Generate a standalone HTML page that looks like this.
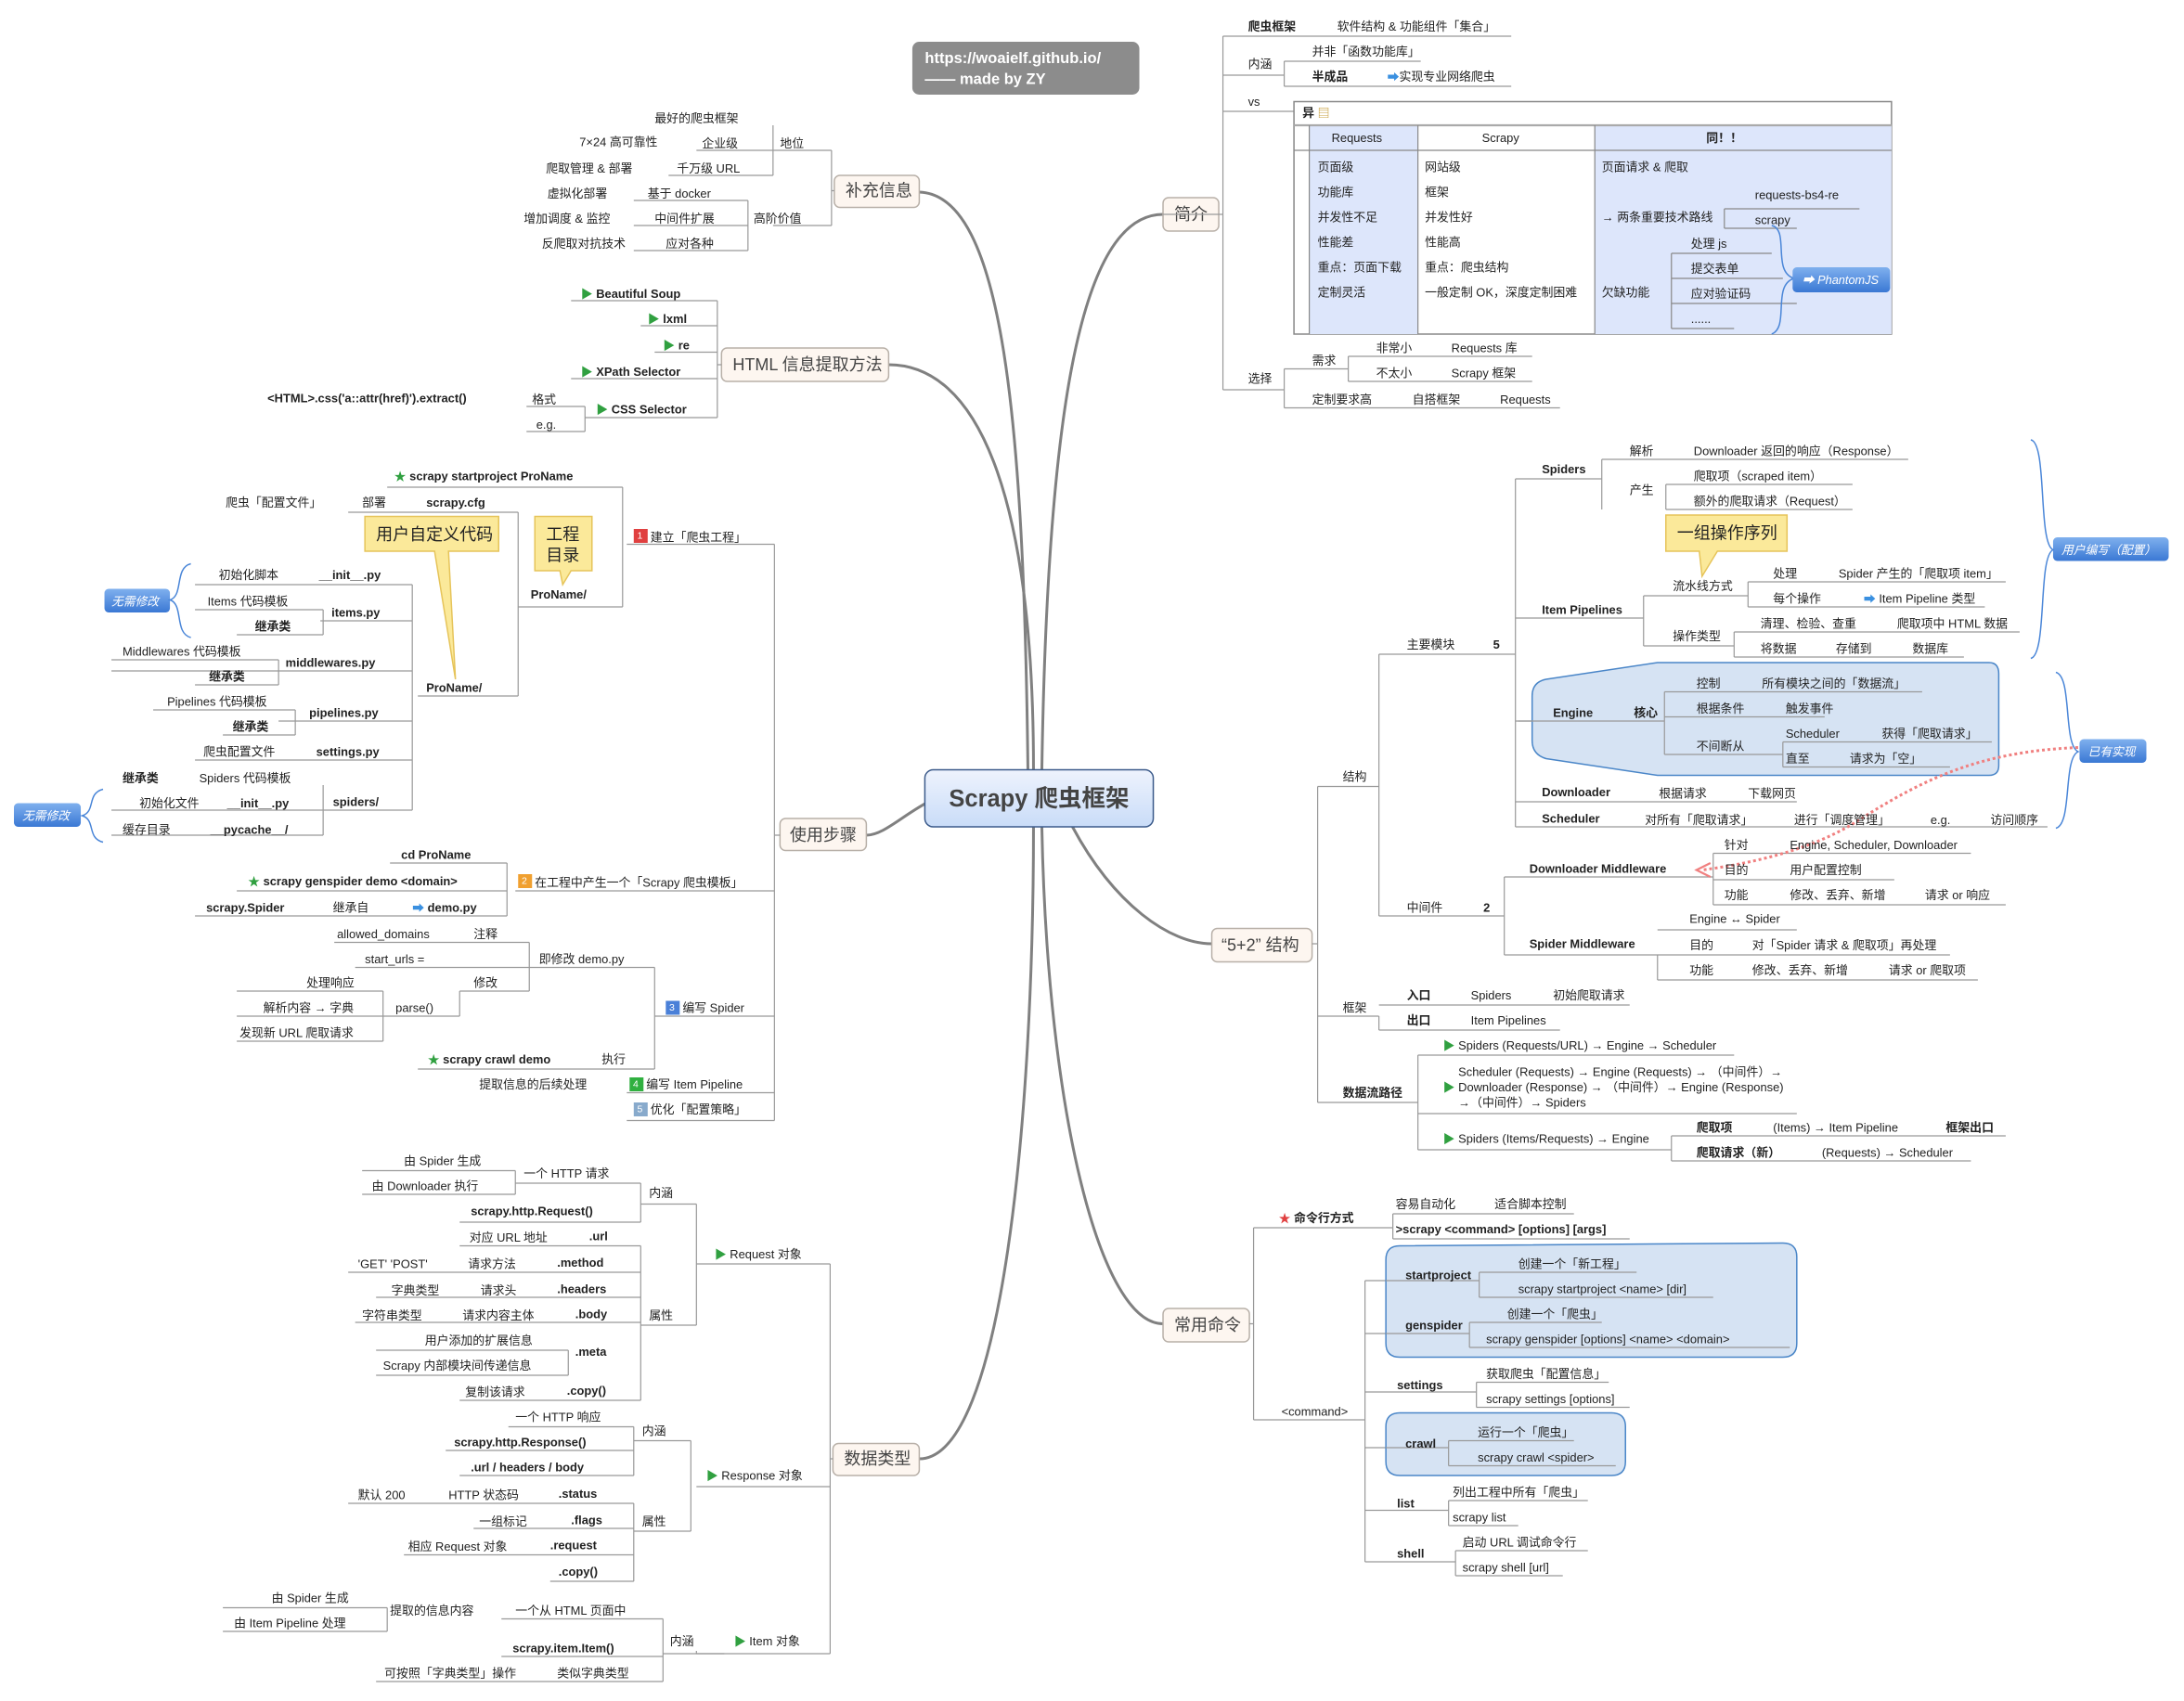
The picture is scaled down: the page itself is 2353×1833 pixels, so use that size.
<!DOCTYPE html>
<html><head><meta charset="utf-8"><style>
html,body{margin:0;padding:0;background:#fff;}
svg{display:block}
text{font-family:"Liberation Sans","Noto Sans CJK SC",sans-serif;font-size:8.6px;fill:#222;dominant-baseline:central}
.b{font-weight:bold}
.nu{}
.br{font-size:12px;fill:#444}
.lab{fill:#fff;font-style:italic;font-size:8.5px}
</style></head><body>
<svg id="s" width="2353" height="1833" viewBox="0 0 1568 1222" preserveAspectRatio="none" xmlns="http://www.w3.org/2000/svg">
<defs>
<linearGradient id="cg" x1="0" y1="0" x2="0" y2="1"><stop offset="0" stop-color="#eef3fd"/><stop offset="1" stop-color="#c9dcf8"/></linearGradient>
<linearGradient id="bg" x1="0" y1="0" x2="0" y2="1"><stop offset="0" stop-color="#7fb0ee"/><stop offset="1" stop-color="#3a78d4"/></linearGradient>
</defs>
<g fill="none" stroke="#808080" stroke-width="2">
<path d="M738 553 C735 300 720 140 660 138"/>
<path d="M742 553 C742 350 700 262 638 262"/>
<path d="M700 565 C660 570 640 600 622 600"/>
<path d="M742 594 C742 800 720 1048 660 1048"/>
<path d="M748 553 C752 300 775 154 835 154"/>
<path d="M770 594 C800 650 840 678 870 678"/>
<path d="M748 594 C752 800 790 951 835 951"/>
</g>
<!-- central -->
<rect x="664" y="553" width="164" height="41" rx="6" fill="url(#cg)" stroke="#3b5a8a"/>
<text x="746" y="574" class="nu b" style="font-size:17px;fill:#444" text-anchor="middle">Scrapy 爬虫框架</text>
<!-- link -->
<rect x="655" y="30" width="163" height="38" rx="5" fill="#8c8c8c"/>
<text x="664" y="42" class="nu b" style="fill:#fff;font-size:11px">https://woaielf.github.io/</text>
<text x="664" y="57" class="nu b" style="fill:#fff;font-size:11px">—— made by ZY</text>
<!-- branch nodes -->
<g fill="#fdf6f0" stroke="#b8b0a8">
<rect x="599" y="126" width="61" height="23" rx="4"/>
<rect x="518" y="250" width="120" height="24" rx="4"/>
<rect x="560" y="588" width="62" height="23" rx="4"/>
<rect x="598" y="1037" width="62" height="23" rx="4"/>
<rect x="835" y="142" width="40" height="24" rx="4"/>
<rect x="870" y="667" width="72" height="24" rx="4"/>
<rect x="835" y="940" width="62" height="24" rx="4"/>
</g>
<text x="607" y="137" class="br nu">补充信息</text>
<text x="526" y="262" class="br nu">HTML 信息提取方法</text>
<text x="567" y="600" class="br nu">使用步骤</text>
<text x="606" y="1048" class="br nu">数据类型</text>
<text x="843" y="154" class="br nu">简介</text>
<text x="877" y="679" class="br nu">“5+2” 结构</text>
<text x="843" y="952" class="br nu">常用命令</text>

<!-- connector vertical lines -->
<g fill="none" stroke="#999" stroke-width="0.8">
<path d="M599 137 H597 M597 108 V162 M555 108 H597 M555 162 H597"/>
<path d="M555 90 V126 M500 108 H555 M480 126 H555 M537 144 V180 M455 144 H537 M455 162 H537 M455 180 H537"/>
<path d="M518 262 H515 M515 216 V300 M515 216 H410 M515 234 H460 M515 253 H470 M515 272 H410 M515 300 H420 M420 292 V310 M378 292 H420 M378 310 H420"/>
<path d="M560 600 H556 M556 391 V805 M556 391 H450 M556 640 H370 M556 730 H470 M556 785 H450 M556 805 H450"/>
<path d="M447 350 V436 M278 350 H447 M250 368 H372 M372 368 V500 M300 500 H372 M372 436 H447"/>
<path d="M296 420 V582 M140 420 H296 M230 446 H296 M80 482 H296 M200 518 H296 M140 546 H296 M232 582 H296 M232 564 V600 M80 582 H232 M80 600 H232 M232 438 V456 M140 438 H232 M170 456 H232 M200 474 V492 M80 474 H200 M140 492 H200 M212 510 V528 M110 510 H212 M160 528 H212"/>
<path d="M364 620 V658 M280 620 H364 M170 640 H364 M140 658 H364"/>
<path d="M470 695 V768 M380 695 H470 M300 768 H470 M380 677 V712 M240 677 H380 M255 695 H380 M330 712 H380 M330 712 V730 M275 712 V748 M170 712 H275 M170 730 H330 M170 748 H275"/>
<path d="M598 1048 H596 M596 908 V1188 M500 908 H596 M500 1068 H596 M500 1188 H596"/>
<path d="M500 865 V952 M460 865 H500 M460 952 H500 M460 850 V878 M330 878 H460 M370 850 H460 M370 841 V858 M260 841 H370 M260 858 H370 M460 895 V1006 M330 895 H460 M250 914 H460 M270 932 H460 M255 950 H460 M408 970 V988 M270 970 H408 M270 988 H408 M330 1006 H460"/>
<path d="M496 1035 V1100 M455 1035 H496 M455 1100 H496 M455 1025 V1060 M365 1025 H455 M320 1042 H455 M330 1060 H455 M455 1080 V1136 M250 1080 H455 M340 1098 H455 M290 1117 H455 M395 1136 H455"/>
<path d="M500 1188 V1186 M476 1188 H520 M476 1163 V1208 M360 1163 H476 M360 1190 H476 M270 1208 H476 M278 1155 V1172 M160 1155 H278 M160 1172 H278"/>
<path d="M835 154 H878 M878 26 V280 M878 26 H1085 M878 54 H922 M922 44 V62 M922 44 H1020 M922 62 H1085 M878 80 H929 M878 280 H922 M922 265 V293 M922 265 H968 M968 256 V274 M968 256 H1100 M968 274 H1100 M922 293 H1120"/>
<path d="M942 678 H946 M946 565 V792 M946 565 H990 M946 730 H990 M946 792 H1018 M990 470 V658 M990 470 H1088 M990 658 H1080 M1088 344 V594 M1088 344 H1150 M1088 444 H1180 M1088 518 H1100 M1088 576 H1290 M1088 594 H1470 M1150 330 V366 M1150 330 H1370 M1196 348 V366 M1196 348 H1330 M1196 366 H1330 M1180 428 V464 M1180 428 H1255 M1180 464 H1245 M1255 418 V436 M1255 418 H1440 M1255 436 H1425 M1245 454 V472 M1245 454 H1450 M1245 472 H1410"/>
<path d="M1080 630 V686 M1080 630 H1230 M1080 686 H1190 M1230 613 V650 M1230 613 H1415 M1230 632 H1360 M1230 650 H1440 M1190 668 H1290 M1190 686 V704 M1190 686 H1400 M1190 704 H1420"/>
<path d="M990 730 V740 M990 722 H1170 M990 740 H1120 M1018 758 V826 M1018 758 H1245 M1018 800 H1290 M1018 826 H1200 M1200 816 V834 M1200 816 H1440 M1200 834 H1415"/>
<path d="M897 951 H900 M900 882 V1020 M900 882 H1000 M900 1020 H980 M1000 872 V890 M1000 872 H1130 M1000 890 H1170 M980 920 V1122 M980 920 H995 M980 958 H995 M980 1000 H1060 M980 1040 H995 M980 1085 H1040 M980 1122 H1045 M1060 993 V1011 M1060 993 H1155 M1060 1011 H1170 M1040 1078 V1096 M1040 1078 H1140 M1040 1096 H1090 M1045 1114 V1132 M1045 1114 H1140 M1045 1132 H1122"/>
</g>

<!-- table -->
<rect x="929" y="73" width="429" height="167" fill="#fff" stroke="#888"/>
<rect x="940" y="90" width="78" height="150" fill="#dde6fb"/>
<rect x="1145" y="90" width="213" height="150" fill="#dde6fb"/>
<g stroke="#888" fill="none" stroke-width="0.8">
<line x1="929" y1="90" x2="1358" y2="90" stroke="#aaa" stroke-width="1.5"/>
<line x1="929" y1="108" x2="1358" y2="108"/>
<line x1="940" y1="90" x2="940" y2="240"/>
<line x1="1018" y1="90" x2="1018" y2="240"/>
<line x1="1145" y1="90" x2="1145" y2="240"/>
<path d="M1238 150 V164 M1238 150 H1335 M1238 164 H1290 M1200 182 V236 M1200 182 H1272 M1200 200 H1280 M1200 218 H1290 M1200 236 H1245"/>
</g>
<path d="M1272 162 C1285 165 1272 195 1288 200 C1272 205 1285 235 1272 240" fill="none" stroke="#4a86d8"/>
<rect x="1287" y="192" width="70" height="18" rx="3" fill="url(#bg)"/>
<text x="1294" y="201" class="lab nu">➡ PhantomJS</text>
<text x="935" y="81" class="b nu">异 <tspan fill="#c8a040">▤</tspan></text>
<text x="956" y="99" class="nu">Requests</text><text x="1064" y="99" class="nu">Scrapy</text><text x="1225" y="99" class="b nu">同！！</text>
<g class="nu">
<text x="946" y="120" class="nu">页面级</text><text x="946" y="138" class="nu">功能库</text><text x="946" y="156" class="nu">并发性不足</text><text x="946" y="174" class="nu">性能差</text><text x="946" y="192" class="nu">重点：页面下载</text><text x="946" y="210" class="nu">定制灵活</text>
<text x="1023" y="120" class="nu">网站级</text><text x="1023" y="138" class="nu">框架</text><text x="1023" y="156" class="nu">并发性好</text><text x="1023" y="174" class="nu">性能高</text><text x="1023" y="192" class="nu">重点：爬虫结构</text><text x="1023" y="210" class="nu">一般定制 OK，深度定制困难</text>
<text x="1150" y="120" class="nu">页面请求 &amp; 爬取</text><text x="1150" y="156" class="nu">→ 两条重要技术路线</text><text x="1150" y="210" class="nu">欠缺功能</text>
<text x="1260" y="140" class="nu">requests-bs4-re</text><text x="1260" y="158" class="nu">scrapy</text>
<text x="1214" y="175" class="nu">处理 js</text><text x="1214" y="193" class="nu">提交表单</text><text x="1214" y="211" class="nu">应对验证码</text><text x="1214" y="229" class="nu">......</text>
</g>

<!-- engine shape -->
<path d="M1100 500 Q1100 490 1110 488 L1190 476 L1428 476 Q1435 476 1435 484 L1435 550 Q1435 557 1428 557 L1190 557 L1110 545 Q1100 542 1100 532 Z" fill="#d6e3f3" stroke="#4a86c8"/>
<g fill="none" stroke="#999" stroke-width="0.8"><path d="M1195 497 V542 M1195 497 H1380 M1195 515 H1310 M1195 542 H1280 M1280 533 V551 M1280 533 H1430 M1280 551 H1400 M1090 518 H1195"/></g>
<!-- startproject box -->
<path d="M995 905 Q995 895 1005 895 L1280 893 Q1290 893 1290 903 L1290 965 Q1290 975 1280 975 L1005 975 Q995 975 995 965 Z" fill="#d6e3f3" stroke="#4a86c8"/>
<path d="M995 1025 Q995 1015 1005 1015 L1157 1015 Q1167 1015 1167 1025 L1167 1050 Q1167 1060 1157 1060 L1005 1060 Q995 1060 995 1050 Z" fill="#d6e3f3" stroke="#4a86c8"/>
<g fill="none" stroke="#999" stroke-width="0.8"><path d="M1062 914 V932 M1062 914 H1175 M1062 932 H1230 M995 920 H1062 M1055 950 V968 M1055 950 H1150 M1055 968 H1285 M995 958 H1055 M1040 1035 V1053 M1040 1035 H1130 M1040 1053 H1160 M995 1040 H1040"/></g>

<!-- callouts -->
<path d="M262 371 H358 V396 H322 L327 488 L312 396 H262 Z" fill="#fbe99a" stroke="#e6c45a"/>
<text x="270" y="384" class="nu" style="font-size:12px">用户自定义代码</text>
<path d="M384 371 H425 V410 H410 L404 420 L402 410 H384 Z" fill="#fbe99a" stroke="#e6c45a"/>
<text x="392" y="384" class="nu" style="font-size:12px">工程</text><text x="392" y="399" class="nu" style="font-size:12px">目录</text>
<path d="M1196 370 H1283 V396 H1233 L1222 414 L1220 396 H1196 Z" fill="#fbe99a" stroke="#e6c45a"/>
<text x="1204" y="383" class="nu" style="font-size:12px">一组操作序列</text>

<!-- blue labels + braces -->
<rect x="75" y="423" width="47" height="17" rx="3" fill="url(#bg)"/><text x="80" y="432" class="lab nu">无需修改</text>
<path d="M137 405 C125 408 132 428 122 431 C132 434 125 455 137 458" fill="none" stroke="#4a86d8"/>
<rect x="10" y="577" width="48" height="17" rx="3" fill="url(#bg)"/><text x="16" y="586" class="lab nu">无需修改</text>
<path d="M74 567 C62 570 69 583 59 586 C69 589 62 602 74 605" fill="none" stroke="#4a86d8"/>
<rect x="1474" y="386" width="83" height="17" rx="3" fill="url(#bg)"/><text x="1480" y="395" class="lab nu">用户编写（配置）</text>
<path d="M1458 316 C1470 318 1463 390 1474 395 C1463 400 1470 470 1458 473" fill="none" stroke="#4a86d8"/>
<rect x="1493" y="531" width="48" height="17" rx="3" fill="url(#bg)"/><text x="1499" y="540" class="lab nu">已有实现</text>
<path d="M1476 483 C1488 486 1481 535 1492 540 C1481 545 1488 592 1476 595" fill="none" stroke="#4a86d8"/>
<path d="M1492 537 C1420 540 1380 560 1330 592 C1300 610 1260 620 1222 625" fill="none" stroke="#f08080" stroke-width="2" stroke-dasharray="2,2"/>
<path d="M1228 620 L1218 625 L1228 630" fill="none" stroke="#f08080" stroke-width="1.5"/>

<!-- step badges -->
<rect x="455" y="380" width="10" height="10" fill="#e04040"/><text x="457.5" y="385" class="nu" style="fill:#fff;font-size:7px">1</text>
<rect x="372" y="628" width="10" height="10" fill="#f0a030"/><text x="374.5" y="633" class="nu" style="fill:#fff;font-size:7px">2</text>
<rect x="478" y="719" width="10" height="10" fill="#4a80d8"/><text x="480.5" y="724" class="nu" style="fill:#fff;font-size:7px">3</text>
<rect x="452" y="774" width="10" height="10" fill="#30b040"/><text x="454.5" y="779" class="nu" style="fill:#fff;font-size:7px">4</text>
<rect x="455" y="792" width="10" height="10" fill="#88aacc"/><text x="457.5" y="797" class="nu" style="fill:#fff;font-size:7px">5</text>

<!-- texts: left top -->
<text x="470" y="85">最好的爬虫框架</text><text x="416" y="102">7×24 高可靠性</text><text x="504" y="103">企业级</text><text x="560" y="103">地位</text>
<text x="392" y="121">爬取管理 &amp; 部署</text><text x="486" y="121">千万级 URL</text>
<text x="393" y="139">虚拟化部署</text><text x="465" y="139">基于 docker</text><text x="541" y="157">高阶价值</text>
<text x="376" y="157">增加调度 &amp; 监控</text><text x="470" y="157">中间件扩展</text>
<text x="389" y="175">反爬取对抗技术</text><text x="478" y="175">应对各种</text>
<text x="417" y="211" class="b"><tspan fill="#30a040">▶</tspan> Beautiful Soup</text>
<text x="465" y="229" class="b"><tspan fill="#30a040">▶</tspan> lxml</text>
<text x="476" y="248" class="b"><tspan fill="#30a040">▶</tspan> re</text>
<text x="417" y="267" class="b"><tspan fill="#30a040">▶</tspan> XPath Selector</text>
<text x="428" y="294" class="b"><tspan fill="#30a040">▶</tspan> CSS Selector</text>
<text x="192" y="286" class="b nu">&lt;HTML&gt;.css('a::attr(href)').extract()</text><text x="382" y="287">格式</text><text x="385" y="305">e.g.</text>
<!-- steps -->
<text x="283" y="342" class="b"><tspan fill="#30a040">★</tspan> scrapy startproject ProName</text>
<text x="162" y="361">爬虫「配置文件」</text><text x="260" y="361">部署</text><text x="306" y="361" class="b">scrapy.cfg</text>
<text x="381" y="427" class="b nu">ProName/</text><text x="306" y="494" class="b nu">ProName/</text>
<text x="467" y="386">建立「爬虫工程」</text>
<text x="157" y="413">初始化脚本</text><text x="229" y="413" class="b">__init__.py</text>
<text x="149" y="432">Items 代码模板</text><text x="238" y="440" class="b">items.py</text><text x="183" y="450" class="b">继承类</text>
<text x="88" y="468">Middlewares 代码模板</text><text x="205" y="476" class="b">middlewares.py</text><text x="150" y="486" class="b">继承类</text>
<text x="120" y="504">Pipelines 代码模板</text><text x="222" y="512" class="b">pipelines.py</text><text x="167" y="522" class="b">继承类</text>
<text x="146" y="540">爬虫配置文件</text><text x="227" y="540" class="b">settings.py</text>
<text x="88" y="559" class="b nu">继承类</text><text x="143" y="559">Spiders 代码模板</text><text x="239" y="576" class="b nu">spiders/</text>
<text x="100" y="577">初始化文件</text><text x="163" y="577" class="b">__init__.py</text>
<text x="88" y="596">缓存目录</text><text x="151" y="596" class="b">__pycache__/</text>
<text x="288" y="614" class="b">cd ProName</text>
<text x="178" y="633" class="b"><tspan fill="#30a040">★</tspan> scrapy genspider demo &lt;domain&gt;</text>
<text x="384" y="634">在工程中产生一个「Scrapy 爬虫模板」</text>
<text x="148" y="652" class="b">scrapy.Spider</text><text x="239" y="652">继承自</text><text x="296" y="652" class="b"><tspan fill="#3a90e0">➡</tspan> demo.py</text>
<text x="242" y="671">allowed_domains</text><text x="340" y="671">注释</text><text x="387" y="689">即修改 demo.py</text>
<text x="262" y="689">start_urls =</text><text x="340" y="706">修改</text><text x="220" y="706">处理响应</text>
<text x="189" y="724">解析内容 → 字典</text><text x="284" y="724">parse()</text><text x="490" y="724">编写 Spider</text>
<text x="172" y="742">发现新 URL 爬取请求</text>
<text x="307" y="761" class="b"><tspan fill="#30a040">★</tspan> scrapy crawl demo</text><text x="432" y="761">执行</text>
<text x="344" y="779">提取信息的后续处理</text><text x="464" y="779">编写 Item Pipeline</text>
<text x="467" y="797">优化「配置策略」</text>
<!-- data types -->
<text x="290" y="834">由 Spider 生成</text><text x="376" y="843">一个 HTTP 请求</text><text x="267" y="852">由 Downloader 执行</text><text x="466" y="857">内涵</text>
<text x="338" y="870" class="b">scrapy.http.Request()</text>
<text x="337" y="889">对应 URL 地址</text><text x="423" y="888" class="b">.url</text>
<text x="513" y="901"><tspan fill="#30a040">▶</tspan> Request 对象</text>
<text x="257" y="908">'GET' 'POST'</text><text x="336" y="908">请求方法</text><text x="400" y="907" class="b">.method</text>
<text x="281" y="927">字典类型</text><text x="345" y="927">请求头</text><text x="400" y="926" class="b">.headers</text>
<text x="260" y="945">字符串类型</text><text x="332" y="945">请求内容主体</text><text x="413" y="944" class="b">.body</text><text x="466" y="945">属性</text>
<text x="305" y="963">用户添加的扩展信息</text><text x="413" y="971" class="b">.meta</text><text x="275" y="981">Scrapy 内部模块间传递信息</text>
<text x="334" y="1000">复制该请求</text><text x="407" y="999" class="b">.copy()</text>
<text x="370" y="1018">一个 HTTP 响应</text><text x="461" y="1028">内涵</text>
<text x="326" y="1036" class="b">scrapy.http.Response()</text><text x="338" y="1054" class="b">.url / headers / body</text>
<text x="507" y="1060"><tspan fill="#30a040">▶</tspan> Response 对象</text>
<text x="257" y="1074">默认 200</text><text x="322" y="1074">HTTP 状态码</text><text x="401" y="1073" class="b">.status</text>
<text x="344" y="1093">一组标记</text><text x="410" y="1092" class="b">.flags</text><text x="461" y="1093">属性</text>
<text x="293" y="1111">相应 Request 对象</text><text x="395" y="1110" class="b">.request</text><text x="401" y="1129" class="b">.copy()</text>
<text x="195" y="1148">由 Spider 生成</text><text x="280" y="1157">提取的信息内容</text><text x="370" y="1157">一个从 HTML 页面中</text><text x="168" y="1166">由 Item Pipeline 处理</text>
<text x="481" y="1179">内涵</text><text x="527" y="1179"><tspan fill="#30a040">▶</tspan> Item 对象</text>
<text x="368" y="1184" class="b">scrapy.item.Item()</text>
<text x="276" y="1202">可按照「字典类型」操作</text><text x="400" y="1202">类似字典类型</text>
<!-- intro -->
<text x="896" y="19" class="b">爬虫框架</text><text x="960" y="19">软件结构 &amp; 功能组件「集合」</text>
<text x="896" y="46">内涵</text><text x="942" y="37">并非「函数功能库」</text><text x="942" y="55" class="b">半成品</text><text x="996" y="55"><tspan fill="#3a90e0">➡</tspan>实现专业网络爬虫</text>
<text x="896" y="73" class="nu">vs</text>
<text x="896" y="272">选择</text><text x="942" y="259">需求</text><text x="988" y="250">非常小</text><text x="1042" y="250">Requests 库</text>
<text x="988" y="268">不太小</text><text x="1042" y="268">Scrapy 框架</text>
<text x="942" y="287">定制要求高</text><text x="1014" y="287">自搭框架</text><text x="1077" y="287">Requests</text>
<!-- 5+2 -->
<text x="964" y="558">结构</text><text x="1010" y="463">主要模块</text><text x="1072" y="463" class="b">5</text>
<text x="1107" y="337" class="b">Spiders</text><text x="1170" y="324">解析</text><text x="1216" y="324">Downloader 返回的响应（Response）</text>
<text x="1170" y="352">产生</text><text x="1216" y="342">爬取项（scraped item）</text><text x="1216" y="360">额外的爬取请求（Request）</text>
<text x="1107" y="438" class="b">Item Pipelines</text><text x="1201" y="421">流水线方式</text><text x="1273" y="412">处理</text><text x="1320" y="412">Spider 产生的「爬取项 item」</text>
<text x="1273" y="430">每个操作</text><text x="1338" y="430"><tspan fill="#3a90e0">➡</tspan> Item Pipeline 类型</text>
<text x="1201" y="457">操作类型</text><text x="1264" y="448">清理、检验、查重</text><text x="1362" y="448">爬取项中 HTML 数据</text>
<text x="1264" y="466">将数据</text><text x="1318" y="466">存储到</text><text x="1373" y="466">数据库</text>
<text x="1115" y="512" class="b nu">Engine</text><text x="1173" y="512" class="b nu">核心</text>
<text x="1218" y="491" class="nu">控制</text><text x="1265" y="491" class="nu">所有模块之间的「数据流」</text>
<text x="1218" y="509" class="nu">根据条件</text><text x="1282" y="509" class="nu">触发事件</text>
<text x="1218" y="536" class="nu">不间断从</text><text x="1282" y="527" class="nu">Scheduler</text><text x="1351" y="527" class="nu">获得「爬取请求」</text>
<text x="1282" y="545" class="nu">直至</text><text x="1328" y="545" class="nu">请求为「空」</text>
<text x="1107" y="569" class="b">Downloader</text><text x="1191" y="570">根据请求</text><text x="1255" y="570">下载网页</text>
<text x="1107" y="588" class="b">Scheduler</text><text x="1181" y="589">对所有「爬取请求」</text><text x="1288" y="589">进行「调度管理」</text><text x="1386" y="589">e.g.</text><text x="1429" y="589">访问顺序</text>
<text x="1010" y="652">中间件</text><text x="1065" y="652" class="b">2</text>
<text x="1098" y="624" class="b">Downloader Middleware</text><text x="1238" y="607">针对</text><text x="1285" y="607">Engine, Scheduler, Downloader</text>
<text x="1238" y="625">目的</text><text x="1285" y="625">用户配置控制</text><text x="1238" y="643">功能</text><text x="1285" y="643">修改、丢弃、新增</text><text x="1382" y="643">请求 or 响应</text>
<text x="1213" y="660">Engine ↔ Spider</text>
<text x="1098" y="678" class="b">Spider Middleware</text><text x="1213" y="679">目的</text><text x="1258" y="679">对「Spider 请求 &amp; 爬取项」再处理</text>
<text x="1213" y="697">功能</text><text x="1258" y="697">修改、丢弃、新增</text><text x="1356" y="697">请求 or 爬取项</text>
<text x="964" y="724">框架</text><text x="1010" y="715" class="b">入口</text><text x="1056" y="715">Spiders</text><text x="1115" y="715">初始爬取请求</text>
<text x="1010" y="733" class="b">出口</text><text x="1056" y="733">Item Pipelines</text>
<text x="964" y="785" class="b">数据流路径</text>
<text x="1036" y="751"><tspan fill="#30a040">▶</tspan> Spiders (Requests/URL) → Engine → Scheduler</text>
<text x="1047" y="770" class="nu">Scheduler (Requests) → Engine (Requests) → （中间件）→</text>
<text x="1036" y="781" class="nu"><tspan fill="#30a040">▶</tspan> Downloader (Response) → （中间件）→ Engine (Response)</text>
<text x="1047" y="792">→（中间件）→ Spiders</text>
<text x="1036" y="818"><tspan fill="#30a040">▶</tspan> Spiders (Items/Requests) → Engine</text>
<text x="1218" y="810" class="b">爬取项</text><text x="1273" y="810">(Items) → Item Pipeline</text><text x="1397" y="810" class="b">框架出口</text>
<text x="1218" y="828" class="b">爬取请求（新）</text><text x="1308" y="828">(Requests) → Scheduler</text>
<!-- commands -->
<text x="918" y="875" class="b"><tspan fill="#e04040">★</tspan> 命令行方式</text><text x="1002" y="865">容易自动化</text><text x="1073" y="865">适合脚本控制</text>
<text x="1002" y="883" class="b">&gt;scrapy &lt;command&gt; [options] [args]</text>
<text x="920" y="1014">&lt;command&gt;</text>
<text x="1009" y="916" class="b nu">startproject</text><text x="1090" y="908" class="nu">创建一个「新工程」</text><text x="1090" y="926" class="nu">scrapy startproject &lt;name&gt; [dir]</text>
<text x="1009" y="952" class="b nu">genspider</text><text x="1082" y="944" class="nu">创建一个「爬虫」</text><text x="1067" y="962" class="nu">scrapy genspider [options] &lt;name&gt; &lt;domain&gt;</text>
<text x="1003" y="995" class="b">settings</text><text x="1067" y="987">获取爬虫「配置信息」</text><text x="1067" y="1005">scrapy settings [options]</text>
<text x="1009" y="1037" class="b nu">crawl</text><text x="1061" y="1029" class="nu">运行一个「爬虫」</text><text x="1061" y="1047" class="nu">scrapy crawl &lt;spider&gt;</text>
<text x="1003" y="1080" class="b">list</text><text x="1043" y="1072">列出工程中所有「爬虫」</text><text x="1043" y="1090">scrapy list</text>
<text x="1003" y="1116" class="b">shell</text><text x="1050" y="1108">启动 URL 调试命令行</text><text x="1050" y="1126">scrapy shell [url]</text>
</svg>
</body></html>
